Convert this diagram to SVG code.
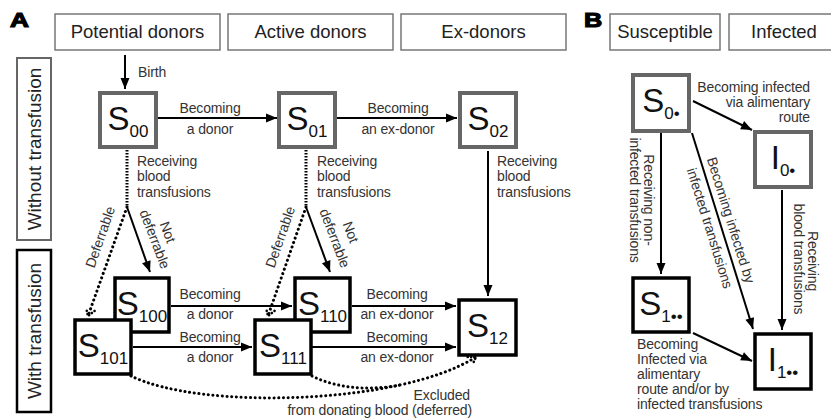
<svg xmlns="http://www.w3.org/2000/svg" width="831" height="419" viewBox="0 0 831 419">
<style>
.hdr{fill:#fff;stroke:#777;stroke-width:1.5}
.ht{font-family:"Liberation Sans",Arial,sans-serif;font-size:18.5px;fill:#222;text-anchor:middle}
.n1{fill:#fff;stroke:#666;stroke-width:4}
.n2{fill:#fff;stroke:#000;stroke-width:3.5}
.nt{font-family:"Liberation Sans",Arial,sans-serif;font-size:33px;fill:#111;text-anchor:middle}
.sub{font-size:17px}
.lb{font-family:"Liberation Sans",Arial,sans-serif;font-size:14px;letter-spacing:-0.15px;fill:#333}
.m{text-anchor:middle}
.e{text-anchor:end}
.solid{fill:none;stroke:#000;stroke-width:2;marker-end:url(#ah)}
.dot{fill:none;stroke:#000;stroke-width:3;stroke-dasharray:0.1 4.6;stroke-linecap:round}
.dense{fill:none;stroke:#000;stroke-width:3;stroke-dasharray:1.5 1.5}
.big{font-family:"Liberation Sans",Arial,sans-serif;font-weight:bold;font-size:21px;fill:#000;stroke:#000;stroke-width:1.2}
.rowt{font-family:"Liberation Sans",Arial,sans-serif;font-size:19px;fill:#222;text-anchor:middle}
</style>
<defs>
<marker id="ah" markerUnits="userSpaceOnUse" markerWidth="11" markerHeight="9" refX="11" refY="4.5" orient="auto" overflow="visible"><path d="M0,0 L11,4.5 L0,9 z" fill="#000"/></marker>
<marker id="dah" markerUnits="userSpaceOnUse" markerWidth="12" markerHeight="12" refX="8" refY="5" orient="auto" overflow="visible"><path d="M1,0.5 L8,5 L1,9.5" fill="none" stroke="#000" stroke-width="2.6" stroke-dasharray="0.1 3.3" stroke-linecap="round"/></marker>
</defs>
<rect width="831" height="419" fill="#fff"/>

<text class="big" transform="translate(10,27) scale(1.25,1)">A</text>
<text class="big" transform="translate(584,27) scale(1.2,1)">B</text>

<g id="hdr-potential"><rect class="hdr" x="55" y="14" width="165" height="36"/><text class="ht" x="137.5" y="38">Potential donors</text></g>
<g id="hdr-active"><rect class="hdr" x="228" y="14" width="165" height="36"/><text class="ht" x="310.5" y="38">Active donors</text></g>
<g id="hdr-ex"><rect class="hdr" x="401" y="14" width="165" height="36"/><text class="ht" x="483.5" y="38">Ex-donors</text></g>
<g id="hdr-susceptible"><rect class="hdr" x="610" y="14" width="110" height="36"/><text class="ht" x="665" y="38">Susceptible</text></g>
<g id="hdr-infected"><rect class="hdr" x="729" y="14" width="110" height="36"/><text class="ht" x="784" y="38">Infected</text></g>

<g id="row-without"><rect x="17" y="58" width="34" height="182" fill="#fff" stroke="#666" stroke-width="2"/><text class="rowt" transform="translate(34,149) rotate(-90)" y="7">Without transfusion</text></g>
<g id="row-with"><rect x="17" y="250" width="34" height="162" fill="#fff" stroke="#000" stroke-width="2.5"/><text class="rowt" transform="translate(34,331) rotate(-90)" y="7">With transfusion</text></g>

<g id="connectors">
<path class="solid" d="M125,55 L125,89"/>
<path class="solid" d="M158,118 L277,118"/>
<path class="solid" d="M337,118 L457,118"/>
<path class="dense" d="M127,150 L127,207"/>
<path class="dense" d="M306,150 L306,207"/>
<path class="dot" d="M127,207 L88,316" marker-end="url(#dah)"/>
<path class="solid" d="M127,207 L150,272"/>
<path class="dot" d="M306,207 L268,316" marker-end="url(#dah)"/>
<path class="solid" d="M306,207 L330,272"/>
<path class="solid" d="M488,151 L488,296"/>
<path class="solid" d="M171,306 L292,306"/>
<path class="solid" d="M352,306 L456,306"/>
<path class="solid" d="M133,347 L252,347"/>
<path class="solid" d="M312,347 L456,347"/>
<path class="dot" d="M131,376 C200,410 400,405 476,357" marker-end="url(#dah)"/>
<path class="dot" d="M312,376 C340,390 375,390 400,385"/>
<path class="solid" d="M693,101 L752,130"/>
<path class="solid" d="M661,133 L661,274"/>
<path class="solid" d="M692,133 L753,329"/>
<path class="solid" d="M782,190 L782,330"/>
<path class="solid" d="M693,333 L752,361"/>

<text class="lb" x="138" y="77">Birth</text>
<text class="lb m" x="210" y="113">Becoming</text><text class="lb m" x="210" y="134">a donor</text>
<text class="lb m" x="398" y="113">Becoming</text><text class="lb m" x="398" y="134">an ex-donor</text>
<text class="lb" x="137" y="166">Receiving</text><text class="lb" x="137" y="181">blood</text><text class="lb" x="137" y="197">transfusions</text>
<text class="lb" x="317" y="166">Receiving</text><text class="lb" x="317" y="181">blood</text><text class="lb" x="317" y="197">transfusions</text>
<text class="lb" x="497" y="166">Receiving</text><text class="lb" x="497" y="181">blood</text><text class="lb" x="497" y="197">transfusions</text>
<text class="lb m" transform="translate(100,237) rotate(-70.8)" y="5">Deferrable</text>
<text class="lb m" transform="translate(280,237) rotate(-70.8)" y="5">Deferrable</text>
<text class="lb m" transform="translate(168,232) rotate(69.1)" y="5">Not</text>
<text class="lb m" transform="translate(155,239) rotate(69.1)" y="5">deferrable</text>
<text class="lb m" transform="translate(351,232) rotate(69.1)" y="5">Not</text>
<text class="lb m" transform="translate(335,238) rotate(69.1)" y="5">deferrable</text>
<text class="lb m" x="210" y="299">Becoming</text><text class="lb m" x="210" y="319">a donor</text>
<text class="lb m" x="397" y="299">Becoming</text><text class="lb m" x="397" y="319">an ex-donor</text>
<text class="lb m" x="210" y="342">Becoming</text><text class="lb m" x="210" y="362">a donor</text>
<text class="lb m" x="397" y="342">Becoming</text><text class="lb m" x="397" y="362">an ex-donor</text>
<text class="lb e" x="470" y="400">Excluded</text>
<text class="lb e" x="472" y="415">from donating blood (deferred)</text>

<text class="lb e" x="810" y="92">Becoming infected</text>
<text class="lb e" x="810" y="107">via alimentary</text>
<text class="lb e" x="810" y="122">route</text>
<text class="lb m" transform="translate(649,200) rotate(90)" y="5">Receiving non-</text>
<text class="lb m" transform="translate(635,200) rotate(90)" y="5">infected transfusions</text>
<text class="lb m" transform="translate(731,220) rotate(72.7)" y="5">Becoming infected by</text>
<text class="lb m" transform="translate(710,228) rotate(72.7)" y="5">infected transfusions</text>
<text class="lb m" transform="translate(813,261) rotate(90)" y="5">Receiving</text>
<text class="lb m" transform="translate(799,259) rotate(90)" y="5">blood transfusions</text>
<text class="lb" x="637" y="349">Becoming</text>
<text class="lb" x="637" y="364">Infected via</text>
<text class="lb" x="637" y="379">alimentary</text>
<text class="lb" x="637" y="394">route and/or by</text>
<text class="lb" x="637" y="409">infected transfusions</text>
</g>

<g id="S00"><rect class="n1" x="100" y="93" width="56" height="54"/><text class="nt" x="128" y="130">S<tspan class="sub" dy="7">00</tspan></text></g>
<g id="S01"><rect class="n1" x="279" y="93" width="56" height="54"/><text class="nt" x="307" y="130">S<tspan class="sub" dy="7">01</tspan></text></g>
<g id="S02"><rect class="n1" x="460" y="93" width="56" height="54"/><text class="nt" x="488" y="130">S<tspan class="sub" dy="7">02</tspan></text></g>
<g id="S100"><rect class="n2" x="115" y="278" width="54" height="54"/><text class="nt" x="142" y="315">S<tspan class="sub" dy="7">100</tspan></text></g>
<g id="S101"><rect class="n2" x="75" y="320" width="56" height="54"/><text class="nt" x="103" y="357">S<tspan class="sub" dy="7">101</tspan></text></g>
<g id="S110"><rect class="n2" x="295" y="278" width="55" height="54"/><text class="nt" x="322.5" y="315">S<tspan class="sub" dy="7">110</tspan></text></g>
<g id="S111"><rect class="n2" x="255" y="320" width="56" height="54"/><text class="nt" x="283" y="357">S<tspan class="sub" dy="7">111</tspan></text></g>
<g id="S12"><rect class="n2" x="459" y="300" width="57" height="55"/><text class="nt" x="487.5" y="337">S<tspan class="sub" dy="7">12</tspan></text></g>
<g id="S0"><rect class="n1" x="633" y="75" width="56" height="56"/><text class="nt" x="661" y="112">S<tspan class="sub" dy="7">0•</tspan></text></g>
<g id="I0"><rect class="n1" x="755" y="132" width="56" height="55"/><text class="nt" x="783" y="169">I<tspan class="sub" dy="7">0•</tspan></text></g>
<g id="S1"><rect class="n2" x="633" y="278" width="56" height="54"/><text class="nt" x="661" y="315">S<tspan class="sub" dy="7">1••</tspan></text></g>
<g id="I1"><rect class="n2" x="755" y="334" width="56" height="55"/><text class="nt" x="783" y="371">I<tspan class="sub" dy="7">1••</tspan></text></g>
</svg>
